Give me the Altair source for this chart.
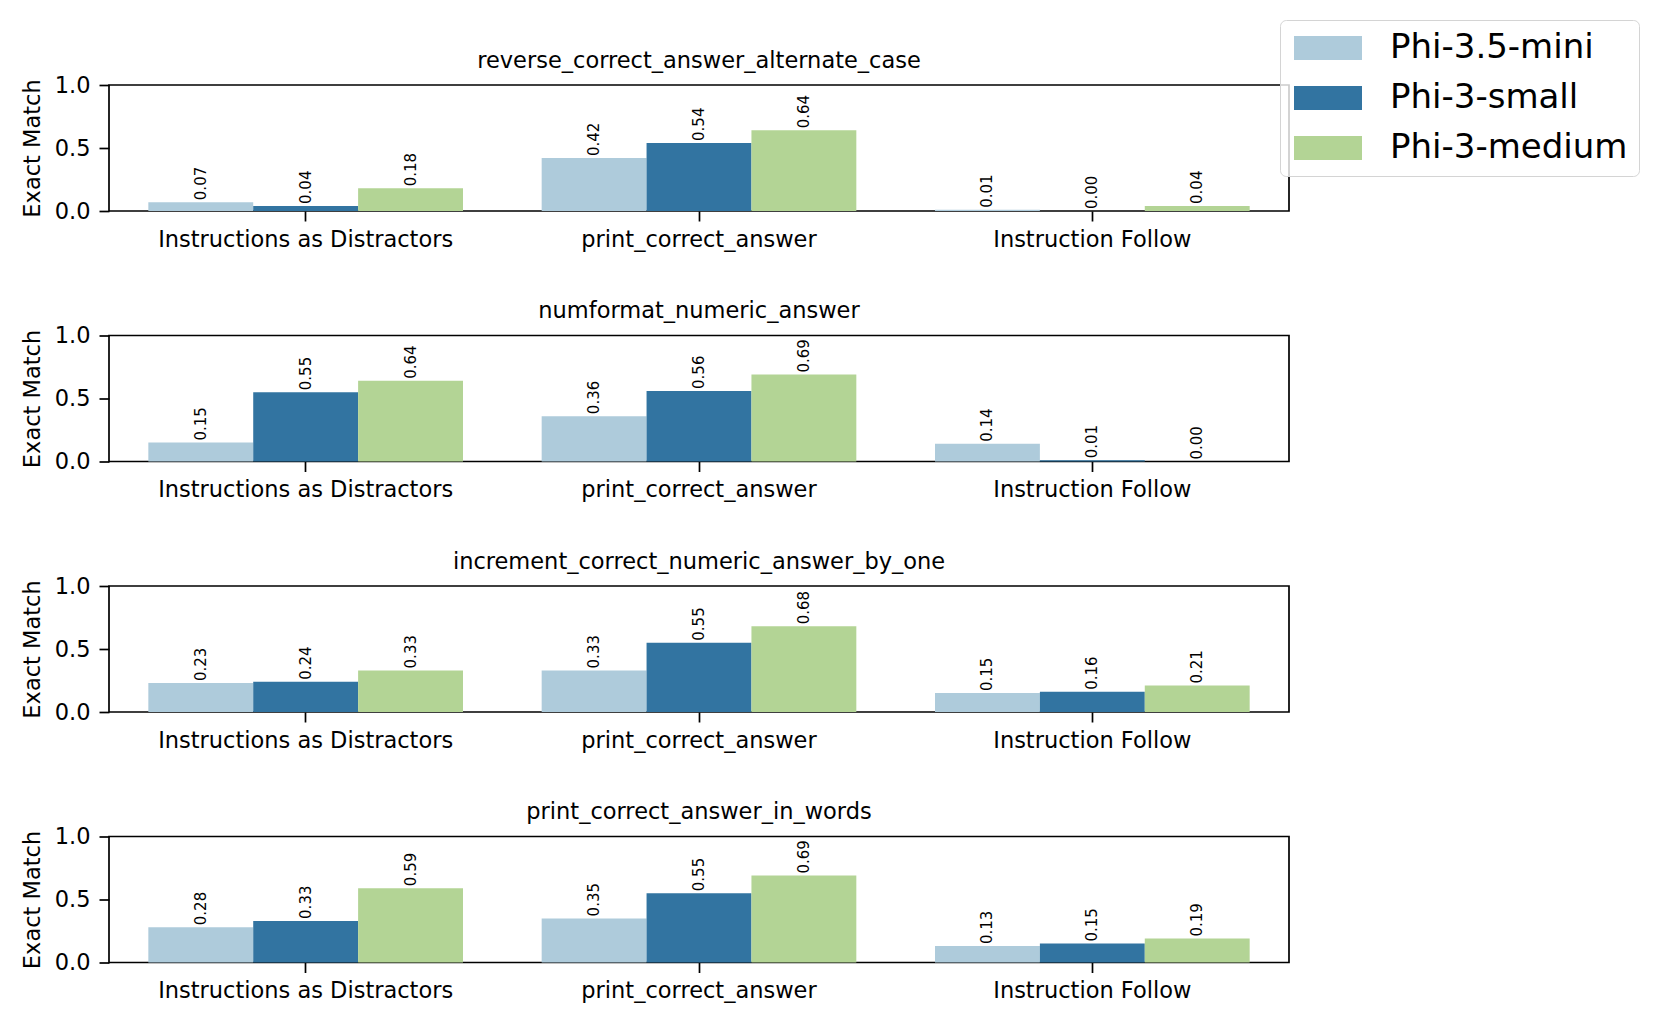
import altair as alt
import pandas as pd

tasks = [
    "reverse_correct_answer_alternate_case",
    "numformat_numeric_answer",
    "increment_correct_numeric_answer_by_one",
    "print_correct_answer_in_words",
]
categories = ["Instructions as Distractors", "print_correct_answer", "Instruction Follow"]
models = ["Phi-3.5-mini", "Phi-3-small", "Phi-3-medium"]
colors = ["#aecbdb", "#3274a1", "#b3d495"]

# values per task (rows) and per category (columns)
phi35_mini = [[0.07, 0.42, 0.01], [0.15, 0.36, 0.14], [0.23, 0.33, 0.15], [0.28, 0.35, 0.13]]
phi3_small = [[0.04, 0.54, 0.00], [0.55, 0.56, 0.01], [0.24, 0.55, 0.16], [0.33, 0.55, 0.15]]
phi3_medium = [[0.18, 0.64, 0.04], [0.64, 0.69, 0.00], [0.33, 0.68, 0.21], [0.59, 0.69, 0.19]]

series = {"Phi-3.5-mini": phi35_mini, "Phi-3-small": phi3_small, "Phi-3-medium": phi3_medium}
rows = []
for ti, t in enumerate(tasks):
    for m in models:
        for ci, c in enumerate(categories):
            rows.append({"task": t, "model": m, "category": c, "value": series[m][ti][ci]})
df = pd.DataFrame(rows)

FONT = "DejaVu Sans"
FS = 22.5


def panel(task):
    d = df[df.task == task]
    base = alt.Chart(d).encode(
        x=alt.X(
            "category:N",
            sort=categories,
            scale=alt.Scale(paddingInner=0.2, paddingOuter=0.1),
            axis=alt.Axis(title=None, labelAngle=0),
        ),
        xOffset=alt.XOffset("model:N", sort=models, scale=alt.Scale(paddingInner=0, paddingOuter=0)),
        y=alt.Y(
            "value:Q",
            scale=alt.Scale(domain=[0, 1], nice=False),
            axis=alt.Axis(title="Exact Match", values=[0, 0.5, 1], format=".1f"),
        ),
    )
    bars = base.mark_bar(opacity=1).encode(
        color=alt.Color(
            "model:N",
            sort=models,
            scale=alt.Scale(domain=models, range=colors),
            legend=alt.Legend(
                title=None,
                orient="none",
                legendX=1171,
                legendY=-65,
                symbolType="M-1,-0.353H1V0.353H-1Z",
                symbolSize=4624,
                symbolStrokeWidth=0,
                symbolOpacity=1,
                symbolOffset=3,
                clipHeight=34,
                labelFontSize=34,
                labelFont=FONT,
                labelColor="black",
                labelOffset=28,
                labelLimit=500,
                rowPadding=16,
                padding=11,
                strokeColor="#d4d4d4",
                fillColor="rgba(255,255,255,0.8)",
                cornerRadius=6,
            ),
        )
    )
    labels = base.mark_text(
        angle=270, align="left", baseline="middle", dx=2, fontSize=15, font=FONT, color="black"
    ).encode(text=alt.Text("value:Q", format=".2f"))
    return (bars + labels).properties(
        width=1180,
        height=126,
        title=alt.Title(task, fontSize=FS, font=FONT, fontWeight="normal", offset=2, color="black"),
    )


chart = (
    alt.vconcat(*[panel(t) for t in tasks], spacing=46.5)
    .properties(padding={"left": 12, "top": 11, "right": 5, "bottom": 5})
    .configure_view(stroke="black", strokeWidth=1.7)
    .configure_axis(
        grid=False,
        domain=False,
        tickColor="black",
        tickWidth=1.7,
        tickSize=10,
        labelFont=FONT,
        labelFontSize=FS,
        labelColor="black",
        labelPadding=9,
        labelLimit=1000,
        titleFont=FONT,
        titleFontSize=FS,
        titleFontWeight="normal",
        titleColor="black",
        titlePadding=10,
    )
    .configure_axisX(labelPadding=7)
)

chart.save("out.html", embed_options={"renderer": "svg", "actions": False})
